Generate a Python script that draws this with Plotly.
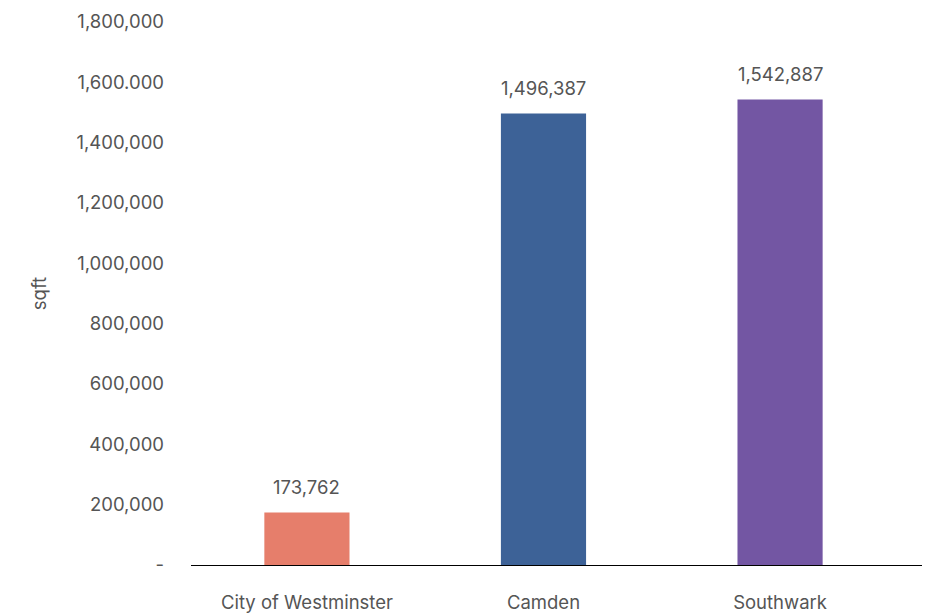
import plotly.graph_objects as go

# Floor area by borough
boroughs = ["City of Westminster", "Camden", "Southwark"]
sqft = [173762, 1496387, 1542887]
bar_colors = ["#E67E6B", "#3D6297", "#7356A3"]

# Y-axis ticks (accounting-style labels)
y_tickvals = [0, 200000, 400000, 600000, 800000, 1000000, 1200000, 1400000, 1600000, 1800000]
y_ticktext = ["-", "200,000", "400,000", "600,000", "800,000", "1,000,000",
              "1,200,000", "1,400,000", "1,600.000", "1,800,000"]

FONT = "Inter, Roboto, sans-serif"
GREY = "#555555"
SIZE = 18.5

fig = go.Figure(
    go.Bar(
        x=boroughs,
        y=sqft,
        marker=dict(color=bar_colors, line=dict(width=0)),
        width=0.36,
        hoverinfo="x+y",
    )
)

for name, val in zip(boroughs, sqft):
    fig.add_annotation(
        x=name, y=val, text=f"{val:,}", showarrow=False,
        yanchor="bottom", yshift=13,
        font=dict(family=FONT, size=SIZE, color=GREY),
    )

fig.update_layout(
    width=928, height=614,
    margin=dict(l=191, r=6, t=22, b=49),
    paper_bgcolor="white", plot_bgcolor="white",
    showlegend=False,
    font=dict(family=FONT, size=SIZE, color=GREY),
    xaxis=dict(
        range=[-0.49, 2.6], automargin=False,
        showline=True, linecolor="black", linewidth=1,
        showgrid=False, ticks="", ticklabelstandoff=21,
        tickfont=dict(family=FONT, size=SIZE, color=GREY),
    ),
    yaxis=dict(
        range=[0, 1800000], automargin=False,
        tickvals=y_tickvals, ticktext=y_ticktext,
        showgrid=False, zeroline=False, showline=False,
        ticks="", ticklabelstandoff=26,
        tickfont=dict(family=FONT, size=SIZE, color=GREY),
        title=dict(text="sqft", font=dict(family=FONT, size=SIZE, color=GREY), standoff=24),
    ),
)

fig.write_html("out.html")
